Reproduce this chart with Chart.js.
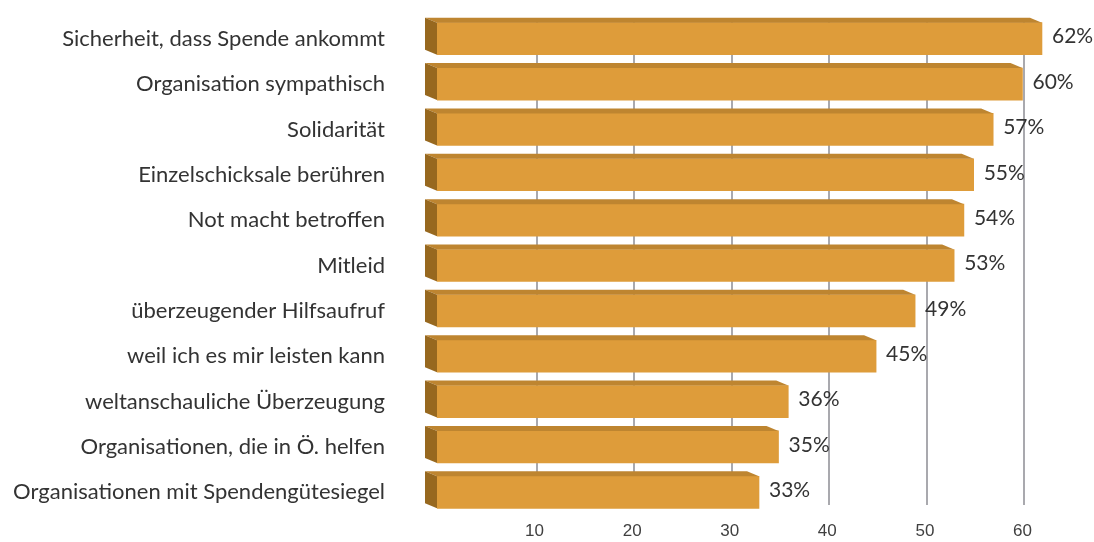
<!DOCTYPE html>
<html>
<head>
<meta charset="utf-8">
<script src="https://cdn.jsdelivr.net/npm/chart.js@4/dist/chart.umd.min.js"></script>
<style>
  html, body { margin: 0; padding: 0; background: #fff; }
  #wrap { position: relative; width: 1094px; height: 542px; }
</style>
</head>
<body>
<div id="wrap"><canvas id="myChart"></canvas></div>
<script>
// data
const categories = [
  "Sicherheit, dass Spende ankommt",
  "Organisation sympathisch",
  "Solidarität",
  "Einzelschicksale berühren",
  "Not macht betroffen",
  "Mitleid",
  "überzeugender Hilfsaufruf",
  "weil ich es mir leisten kann",
  "weltanschauliche Überzeugung",
  "Organisationen, die in Ö. helfen",
  "Organisationen mit Spendengütesiegel"
];
const values = [62, 60, 57, 55, 54, 53, 49, 45, 36, 35, 33];
const tickValues = [10, 20, 30, 40, 50, 60];

const frontColor = "#DE9C3A";
const topColor = "#BE8530";
const sideColor = "#97681F";
const depthX = 12, depthY = 5;

// grid lines drawn behind the bars (back wall)
const gridPlugin = {
  id: "backGrid",
  beforeDatasetsDraw(chart) {
    const ctx = chart.ctx;
    const xs = chart.scales.x;
    const area = chart.chartArea;
    ctx.save();
    ctx.strokeStyle = "#A9A9AE";
    ctx.lineWidth = 2;
    tickValues.forEach(v => {
      const px = Math.round(xs.getPixelForValue(v)) + 2;
      ctx.beginPath();
      ctx.moveTo(px, area.top + 2);
      ctx.lineTo(px, area.bottom - 10);
      ctx.stroke();
    });
    ctx.restore();
  }
};

// fake 3d: top face + left face, then value labels
const bar3d = {
  id: "bar3d",
  afterDatasetsDraw(chart) {
    const ctx = chart.ctx;
    const meta = chart.getDatasetMeta(0);
    ctx.save();
    meta.data.forEach((bar, i) => {
      const p = bar.getProps(["x", "y", "base", "height"], true);
      const top = p.y - p.height / 2;
      const bottom = p.y + p.height / 2;
      const left = p.base;
      const right = p.x;
      // top face
      ctx.fillStyle = topColor;
      ctx.beginPath();
      ctx.moveTo(left, top);
      ctx.lineTo(left - depthX, top - depthY);
      ctx.lineTo(right - depthX, top - depthY);
      ctx.lineTo(right, top);
      ctx.closePath();
      ctx.fill();
      // left face
      ctx.fillStyle = sideColor;
      ctx.beginPath();
      ctx.moveTo(left, top);
      ctx.lineTo(left - depthX, top - depthY);
      ctx.lineTo(left - depthX, bottom - depthY);
      ctx.lineTo(left, bottom);
      ctx.closePath();
      ctx.fill();
      // value label
      ctx.fillStyle = "#333333";
      ctx.font = "21px Lato";
      ctx.textAlign = "left";
      ctx.textBaseline = "middle";
      ctx.fillText(values[i] + "%", right + 10, p.y - 2);
    });
    ctx.restore();
  }
};

const ctx = document.getElementById("myChart");

const myChart = new Chart(ctx, {
  type: "bar",
  data: {
    labels: categories,
    datasets: [
      {
        data: values,
        backgroundColor: frontColor,
        borderWidth: 0,
        barThickness: 32,
      },
    ],
  },
  options: {
    indexAxis: "y",
    responsive: true,
    maintainAspectRatio: false,
    animation: false,
    layout: { padding: { top: 16, right: 13, bottom: 0, left: 0 } },
    plugins: {
      legend: { display: false },
      tooltip: { enabled: false },
    },
    scales: {
      x: {
        min: 0,
        max: 66,
        grid: { display: false },
        border: { display: false },
        afterBuildTicks(scale) {
          scale.ticks = tickValues.map(v => ({ value: v }));
        },
        afterFit(scale) {
          scale.height = 27;
          scale.paddingLeft = 0;
          scale.paddingRight = 0;
        },
        ticks: {
          padding: -2,
          maxRotation: 0,
          color: "#404040",
          font: { family: "'Liberation Sans Narrow', 'Liberation Sans'", size: 17 },
        },
      },
      y: {
        grid: { display: false, drawTicks: false },
        border: { display: false },
        afterFit(scale) {
          // labels need room on the left, not above/below
          scale.width = 437;
          scale.paddingTop = 0;
          scale.paddingBottom = 0;
        },
        ticks: {
          padding: 52,
          autoSkip: false,
          color: "#333333",
          font: { family: "Lato", size: 22 },
        },
      },
    },
  },
  plugins: [gridPlugin, bar3d],
});
</script>
</body>
</html>
